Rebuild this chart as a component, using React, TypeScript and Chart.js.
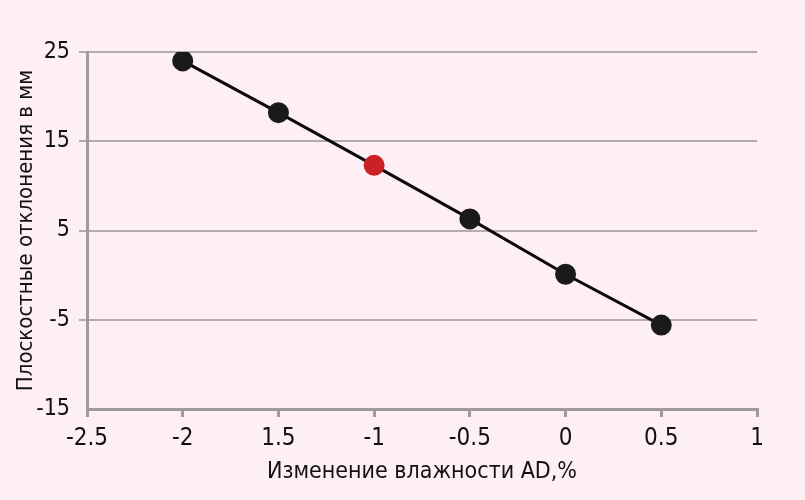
import React, { useEffect, useRef } from "react";
import { Chart, registerables } from "chart.js";

Chart.register(...registerables);

const xValues = [-2, -1.5, -1, -0.5, 0, 0.5];
const yValues = [24, 18.2, 12.3, 6.3, 0.1, -5.6];
const pointColors = ["#1a1a1a", "#1a1a1a", "#cc2027", "#1a1a1a", "#1a1a1a", "#1a1a1a"];
const xTickValues = [-2.5, -2, -1.5, -1, -0.5, 0, 0.5, 1];
const xTickLabels = ["-2.5", "-2", "1.5", "-1", "-0.5", "0", "0.5", "1"];
const xTitle = "Изменение влажности AD,%";
const yTitle = "Плоскостные отклонения в мм";

const FONT = "'Liberation Sans Narrow', 'DejaVu Sans Condensed', 'Roboto Condensed', sans-serif";
const BG = "#fdeff4";

export default function App() {
  const ref = useRef<HTMLCanvasElement | null>(null);
  useEffect(() => {
    document.body.style.margin = "0";
    const canvas = ref.current;
    if (!canvas) return;
    const bgPlugin = {
      id: "bg",
      beforeDraw(chart: any) {
        const c = chart.ctx;
        c.save();
        c.fillStyle = BG;
        c.fillRect(0, 0, chart.width, chart.height);
        c.restore();
      },
    };
    const chart = new Chart(canvas, {
      type: "scatter",
      data: {
        datasets: [
          {
            data: xValues.map((x, i) => ({ x, y: yValues[i] })),
            showLine: true,
            borderColor: "#0a0a0a",
            borderWidth: 3,
            pointBackgroundColor: pointColors,
            pointBorderColor: pointColors,
            pointRadius: 9,
            pointHoverRadius: 9,
          },
        ],
      },
      options: {
        animation: false,
        responsive: false,
        layout: { padding: { top: 52, right: 48, left: 13, bottom: 14 } },
        plugins: { legend: { display: false }, tooltip: { enabled: false } },
        scales: {
          x: {
            type: "linear",
            min: -2.5,
            max: 1,
            afterBuildTicks: (axis: any) => {
              axis.ticks = xTickValues.map((v) => ({ value: v }));
            },
            ticks: {
              color: "#111",
              font: { family: FONT, size: 24 },
              padding: 7,
              maxRotation: 0,
              autoSkip: false,
              callback: (v: any) => {
                const i = xTickValues.indexOf(Number(v));
                return i >= 0 ? xTickLabels[i] : "";
              },
            },
            grid: {
              drawOnChartArea: false,
              drawTicks: true,
              tickLength: 8,
              color: "#a09a9d",
              lineWidth: 3,
            },
            border: { display: true, color: "#a09a9d", width: 3 },
            title: {
              display: true,
              text: xTitle,
              color: "#111",
              font: { family: FONT, size: 23 },
              padding: { top: 0, bottom: 0 },
            },
            afterFit: (axis: any) => {
              axis.height = 77;
            },
          },
          y: {
            type: "linear",
            min: -15,
            max: 25,
            ticks: {
              stepSize: 10,
              color: "#111",
              font: { family: FONT, size: 23 },
              padding: 9,
            },
            grid: {
              drawTicks: true,
              tickLength: 8,
              color: (ctx: any) => (ctx.tick && ctx.tick.value === -15 ? "rgba(0,0,0,0)" : "#b3abae"),
              lineWidth: 2,
            },
            border: { display: true, color: "#a09a9d", width: 3 },
            title: {
              display: true,
              text: yTitle,
              color: "#111",
              font: { family: FONT, size: 22 },
              padding: { top: 0, bottom: 2 },
            },
            afterFit: (axis: any) => {
              axis.width = 74;
            },
          },
        },
      },
      plugins: [bgPlugin],
    });
    return () => chart.destroy();
  }, []);
  return (
    <div style={{ width: 805, height: 500, background: BG }}>
      <canvas ref={ref} width={805} height={500} style={{ display: "block", width: 805, height: 500 }} />
    </div>
  );
}
